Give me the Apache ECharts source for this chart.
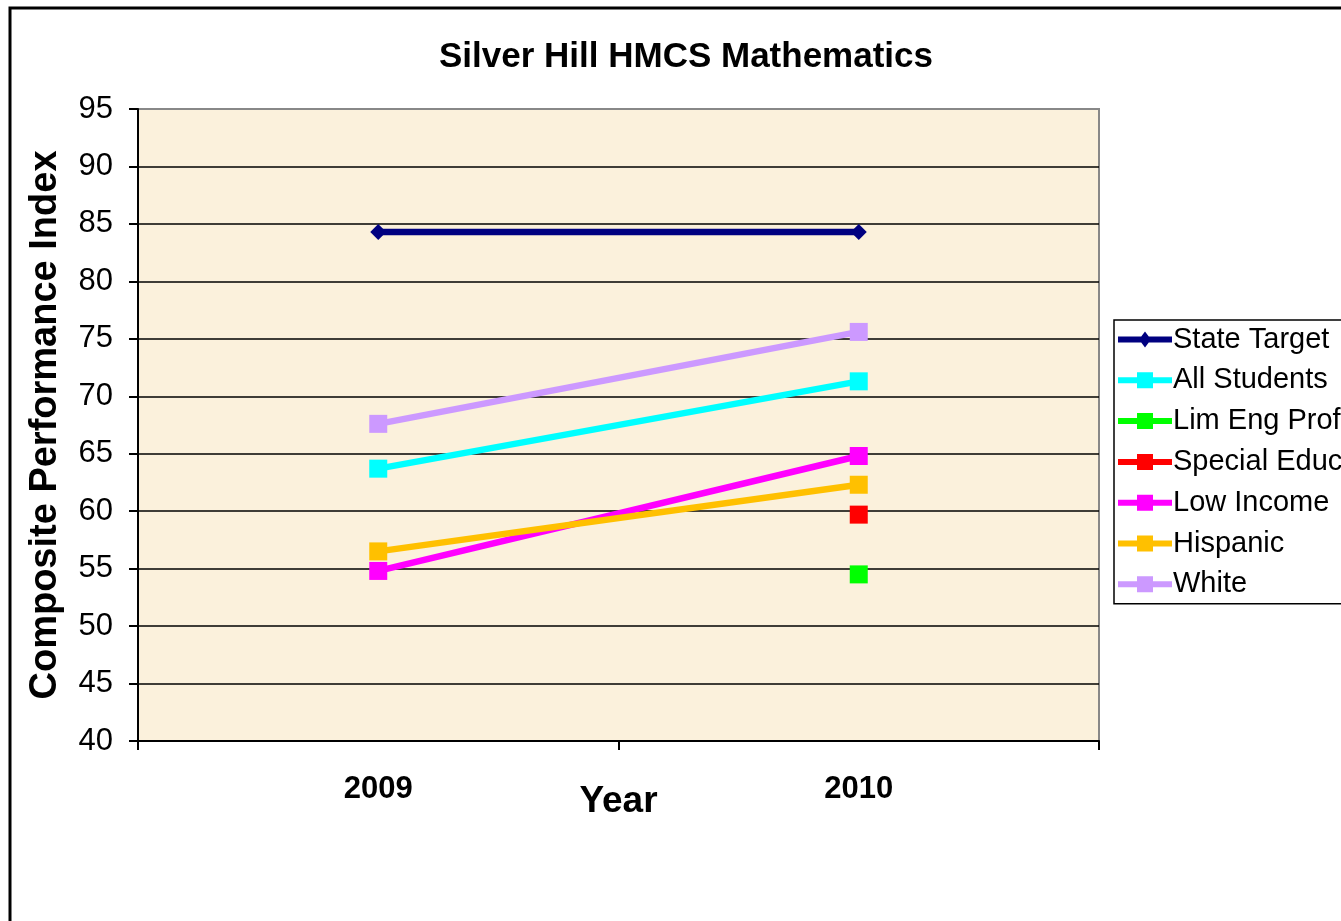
<!DOCTYPE html>
<html>
<head>
<meta charset="utf-8">
<script src="https://cdn.jsdelivr.net/npm/echarts@6/dist/echarts.min.js"></script>
<style>
  html, body { margin: 0; padding: 0; background: #fff; }
  #main { width: 1341px; height: 921px; }
</style>
</head>
<body>
<div id="main"></div>
<script>
var myChart = echarts.init(document.getElementById('main'));

var years = ['2009', '2010'];
var stateTarget = [84.3, 84.3];
var allStudents = [63.7, 71.3];
var limEngProf = [null, 54.5];
var specialEduc = [null, 59.7];
var lowIncome = [54.8, 64.8];
var hispanic = [56.5, 62.3];
var white = [67.6, 75.6];
var yTicks = [40, 95, 5]; // min, max, step

var font = 'Liberation Sans, Arial, sans-serif';

// legend icons: thick line with the marker in the middle
var iconRect = 'path://M0,6 L54,6 L54,12 L0,12 Z M19,1 L35,1 L35,17 L19,17 Z';
var iconDiamond = 'path://M0,6 L54,6 L54,12 L0,12 Z M27,1 L33,9 L27,17 L21,9 Z';

function mkSeries(name, data, color, symbol, size) {
    return {
        name: name,
        type: 'line',
        data: data,
        symbol: symbol,
        symbolSize: size,
        showAllSymbol: true,
        connectNulls: false,
        lineStyle: { color: color, width: 6.5 },
        itemStyle: { color: color },
        emphasis: { disabled: true }
    };
}

var names = ['State Target', 'All Students', 'Lim Eng Prof', 'Special Educ', 'Low Income', 'Hispanic', 'White'];

var option = {
    animation: false,
    textStyle: { fontFamily: font },
    title: {
        text: 'Silver Hill HMCS Mathematics',
        left: 681,
        textAlign: 'center',
        top: 35,
        textStyle: { fontSize: 35, fontWeight: 'bold', color: '#000', fontFamily: font }
    },
    graphic: [{
        type: 'rect',
        shape: { x: 10, y: 8, width: 1400, height: 1000 },
        style: { fill: 'none', stroke: '#000', lineWidth: 3 },
        z: 0
    }],
    legend: {
        orient: 'vertical',
        left: 1114,
        top: 320,
        padding: [5, 60, 5, 4],
        itemGap: 11.8,
        itemWidth: 54,
        itemHeight: 18,
        backgroundColor: '#fff',
        borderColor: '#000',
        borderWidth: 1.5,
        textStyle: { fontSize: 29, color: '#000', fontFamily: font, padding: [0, 0, 0, -4] },
        data: names.map(function (n, i) {
            return { name: n, icon: i === 0 ? iconDiamond : iconRect };
        })
    },
    grid: {
        left: 138,
        top: 109,
        width: 961,
        height: 632,
        show: true,
        backgroundColor: '#FBF1DC',
        borderColor: '#888',
        borderWidth: 2
    },
    xAxis: {
        type: 'category',
        data: years,
        boundaryGap: true,
        name: 'Year',
        nameLocation: 'middle',
        nameGap: 42,
        nameMoveOverlap: false,
        nameTextStyle: { fontSize: 37, fontWeight: 'bold', color: '#000', fontFamily: font },
        axisLine: { lineStyle: { color: '#000', width: 2 } },
        axisTick: { show: true, length: 9, lineStyle: { color: '#000', width: 2 } },
        axisLabel: { margin: 33, fontSize: 31, fontWeight: 'bold', color: '#000', fontFamily: font },
        splitLine: { show: false }
    },
    yAxis: {
        type: 'value',
        min: yTicks[0],
        max: yTicks[1],
        interval: yTicks[2],
        name: 'Composite Performance Index',
        nameLocation: 'middle',
        nameGap: 73,
        nameMoveOverlap: false,
        nameTextStyle: { fontSize: 38, fontWeight: 'bold', color: '#000', fontFamily: font },
        axisLine: { show: true, lineStyle: { color: '#000', width: 2 } },
        axisTick: { show: true, length: 9, lineStyle: { color: '#000', width: 2 } },
        axisLabel: { margin: 25, fontSize: 31, color: '#000', fontFamily: font },
        splitLine: { show: true, showMaxLine: false, lineStyle: { color: '#000', width: 1.5 } }
    },
    series: [
        mkSeries('State Target', stateTarget, '#000080', 'diamond', 16),
        mkSeries('All Students', allStudents, '#00FFFF', 'rect', 18),
        mkSeries('Lim Eng Prof', limEngProf, '#00FF00', 'rect', 18),
        mkSeries('Special Educ', specialEduc, '#FF0000', 'rect', 18),
        mkSeries('Low Income', lowIncome, '#FF00FF', 'rect', 18),
        mkSeries('Hispanic', hispanic, '#FFC000', 'rect', 18),
        mkSeries('White', white, '#CC99FF', 'rect', 18)
    ]
};

myChart.setOption(option);
</script>
</body>
</html>
